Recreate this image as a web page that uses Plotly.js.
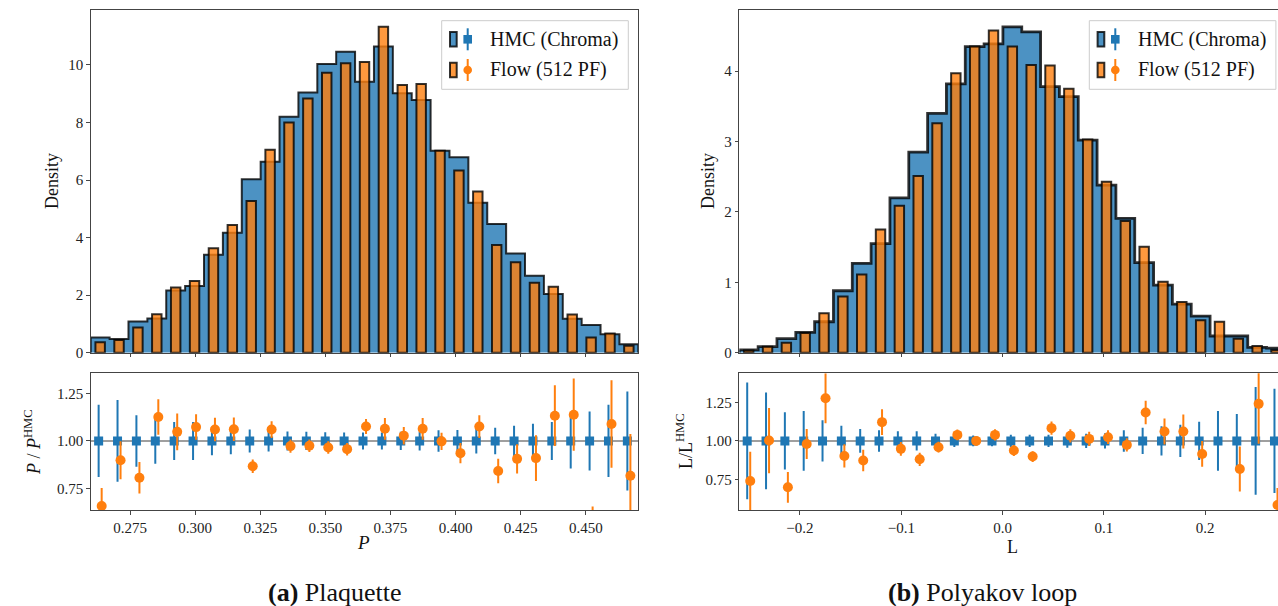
<!DOCTYPE html>
<html><head><meta charset="utf-8">
<script src="https://cdn.plot.ly/plotly-3.0.1.min.js"></script>
<style>html,body{margin:0;padding:0;overflow:hidden;background:#fff;}#plot{width:1290px;height:606px;}</style>
</head><body><div id="plot"></div>
<script>
// ---------- Data ----------
const plaqCenters = [0.26353,0.27078,0.27803,0.28528,0.29253,0.29978,0.30703,0.31428,0.32153,0.32878,0.33603,0.34328,0.35053,0.35778,0.36503,0.37228,0.37953,0.38678,0.39403,0.40128,0.40853,0.41578,0.42303,0.43028,0.43753,0.44478,0.45203,0.45928,0.46653];
const plaqHMC  = [0.53,0.48,1.08,1.19,2.16,2.32,3.40,4.17,6.03,6.64,8.20,9.04,10.03,10.46,9.42,10.64,9.02,8.78,7.02,6.79,5.21,4.47,3.45,2.67,2.04,1.18,0.96,0.64,0.29];
const plaqFlow = [0.36,0.44,0.88,1.34,2.27,2.49,3.63,4.44,5.27,7.05,8.00,8.83,9.73,10.06,10.10,11.33,9.30,9.34,7.02,6.33,5.60,3.74,3.14,2.43,2.29,1.33,0.53,0.67,0.24];
const plaqHMCRatio = [1,1,1,1,1,1,1,1,1,1,1,1,1,1,1,1,1,1,1,1,1,1,1,1,1,1,1,1,1];
const plaqHMCErr = [0.19,0.215,0.135,0.12,0.10,0.10,0.075,0.07,0.06,0.055,0.05,0.048,0.046,0.045,0.045,0.045,0.048,0.05,0.057,0.058,0.066,0.07,0.08,0.09,0.10,0.145,0.155,0.19,0.26];
const plaqFlowRatio = [0.658,0.899,0.807,1.126,1.048,1.073,1.06,1.062,0.867,1.06,0.973,0.975,0.966,0.957,1.076,1.064,1.028,1.064,0.998,0.936,1.076,0.842,0.906,0.91,1.133,1.138,0.55,1.089,0.817];
const plaqFlowErr = [0.095,0.10,0.083,0.093,0.097,0.067,0.062,0.062,0.035,0.044,0.035,0.033,0.033,0.033,0.039,0.057,0.046,0.057,0.045,0.053,0.06,0.064,0.077,0.12,0.16,0.19,0.106,0.23,0.22];
const plaqTicks = [0.275,0.300,0.325,0.350,0.375,0.400,0.425,0.450];

const polyCenters = [-0.25061,-0.23202,-0.21343,-0.19484,-0.17625,-0.15766,-0.13907,-0.12048,-0.10189,-0.08330,-0.06472,-0.04613,-0.02754,-0.00895,0.00964,0.02823,0.04682,0.06541,0.08400,0.10259,0.12118,0.13977,0.15836,0.17695,0.19554,0.21413,0.23272,0.25131,0.26990];
const polyHMC  = [0.04,0.085,0.20,0.29,0.44,0.88,1.27,1.55,2.20,2.85,3.40,3.82,4.35,4.39,4.63,4.56,3.78,3.64,3.02,2.38,1.91,1.28,0.96,0.69,0.52,0.237,0.237,0.076,0.065];
const polyFlow = [0.03,0.085,0.14,0.28,0.56,0.80,1.11,1.75,2.09,2.51,3.26,3.97,4.35,4.58,4.35,4.09,4.08,3.75,3.03,2.43,1.87,1.505,1.01,0.72,0.46,0.44,0.20,0.095,0.04];
const polyHMCRatio = [1,1,1,1,1,1,1,1,1,1,1,1,1,1,1,1,1,1,1,1,1,1,1,1,1,1,1,1,1];
const polyHMCErr = [0.38,0.315,0.187,0.195,0.134,0.098,0.078,0.07,0.062,0.062,0.046,0.04,0.035,0.035,0.04,0.04,0.04,0.045,0.046,0.05,0.07,0.085,0.095,0.105,0.125,0.195,0.175,0.35,0.34];
const polyFlowRatio = [0.739,1.002,0.698,0.98,1.278,0.902,0.872,1.122,0.948,0.88,0.959,1.039,1.0,1.039,0.937,0.898,1.083,1.033,1.013,1.024,0.974,1.185,1.061,1.061,0.915,1.86,0.817,1.241,0.583];
const polyFlowErr = [0.19,0.212,0.1,0.098,0.163,0.076,0.07,0.084,0.045,0.043,0.035,0.035,0.02,0.037,0.036,0.035,0.043,0.043,0.046,0.045,0.043,0.076,0.084,0.11,0.084,0.35,0.147,0.26,0.11];
const polyTicks = [-0.2,-0.1,0.0,0.1,0.2];

const legendLabels = ['HMC (Chroma)', 'Flow (512 PF)'];
const captions = ['<b>(a)</b> Plaquette', '<b>(b)</b> Polyakov loop'];

// ---------- Helpers ----------
const W = 1290, H = 606;
const BLUE = '#1f77b4', ORANGE = '#ff7f0e';
const BLUE_A = 'rgba(31,119,180,0.8)', ORANGE_A = 'rgba(255,127,14,0.8)', EDGE = 'rgba(0,0,0,0.8)';
const FONT = '"Liberation Serif", "Times New Roman", serif';
const px = x => x / W;
const py = y => 1 - y / H;
const binWidth = c => (c[c.length - 1] - c[0]) / (c.length - 1);

function stepTrace(c, h, xa, ya, lw) {
  const w = binWidth(c);
  const xs = [c[0] - w / 2], ys = [0];
  for (let i = 0; i < c.length; i++) { xs.push(c[i] - w / 2); ys.push(h[i]); }
  xs.push(c[c.length - 1] + w / 2); ys.push(h[h.length - 1]);
  xs.push(c[c.length - 1] + w / 2); ys.push(0);
  return {type: 'scatter', mode: 'lines', x: xs, y: ys, xaxis: xa, yaxis: ya,
    line: {shape: 'hv', color: EDGE, width: lw}, fill: 'toself', fillcolor: BLUE_A,
    hoverinfo: 'skip', showlegend: false};
}
function barTrace(c, h, xa, ya) {
  const w = binWidth(c);
  return {type: 'bar', x: c, y: h, width: w * 0.5, xaxis: xa, yaxis: ya,
    marker: {color: ORANGE_A, line: {color: EDGE, width: 2}}, showlegend: false, hoverinfo: 'skip'};
}
function ratioTraces(c, hr, he, fr, fe, xa, ya) {
  const off = binWidth(c) * 0.08;
  return [
    {type: 'scatter', mode: 'markers', x: c.map(v => v - off), y: hr, xaxis: xa, yaxis: ya,
      marker: {symbol: 'square', size: 9, color: BLUE},
      error_y: {type: 'data', array: he, visible: true, color: BLUE, thickness: 2, width: 0},
      showlegend: false, hoverinfo: 'skip'},
    {type: 'scatter', mode: 'markers', x: c.map(v => v + off), y: fr, xaxis: xa, yaxis: ya,
      marker: {symbol: 'circle', size: 10, color: ORANGE},
      error_y: {type: 'data', array: fe, visible: true, color: ORANGE, thickness: 2, width: 0},
      showlegend: false, hoverinfo: 'skip'}
  ];
}

const traces = [
  stepTrace(plaqCenters, plaqHMC, 'x', 'y', 2),
  ...ratioTraces(plaqCenters, plaqHMCRatio, plaqHMCErr, plaqFlowRatio, plaqFlowErr, 'x2', 'y2'),
  stepTrace(polyCenters, polyHMC, 'x3', 'y3', 2.8),
  ...ratioTraces(polyCenters, polyHMCRatio, polyHMCErr, polyFlowRatio, polyFlowErr, 'x4', 'y4'),
  // flow histograms on overlay y-axes so they are drawn above the HMC fill
  barTrace(plaqCenters, plaqFlow, 'x', 'y5'),
  barTrace(polyCenters, polyFlow, 'x3', 'y6')
];

const tickFont = {family: FONT, size: 15, color: '#222'};
function axis(extra) {
  return Object.assign({showline: true, mirror: true, linecolor: '#444', linewidth: 1,
    ticks: 'outside', ticklen: 3.5, tickwidth: 0.9, tickcolor: '#333',
    showgrid: false, zeroline: false, tickfont: tickFont, fixedrange: true}, extra);
}
const topDom = [py(352.7), py(10)], botDom = [py(510), py(373.3)];
const leftDom = [px(90.7), px(638.3)], rightDom = [px(739.3), px(1285.4)];

const layout = {
  width: W, height: H, margin: {l: 0, r: 0, t: 0, b: 0},
  paper_bgcolor: '#fff', plot_bgcolor: '#fff', showlegend: false, barmode: 'overlay',
  font: {family: FONT, color: '#111'},
  xaxis: axis({domain: leftDom, anchor: 'y', range: [0.2599, 0.47015], tickvals: plaqTicks, showticklabels: false}),
  yaxis: axis({domain: topDom, anchor: 'x', range: [0, 11.91], tickvals: [0, 2, 4, 6, 8, 10]}),
  yaxis5: {overlaying: 'y', anchor: 'x', range: [0, 11.91], visible: false, fixedrange: true},
  xaxis2: axis({domain: leftDom, anchor: 'y2', range: [0.2599, 0.47015], tickvals: plaqTicks, tickformat: '.3f'}),
  yaxis2: axis({domain: botDom, anchor: 'x2', range: [0.637, 1.356], tickvals: [0.75, 1.0, 1.25], tickformat: '.2f'}),
  xaxis3: axis({domain: rightDom, anchor: 'y3', range: [-0.2599, 0.2792], tickvals: polyTicks, showticklabels: false}),
  yaxis3: axis({domain: topDom, anchor: 'x3', range: [0, 4.87], tickvals: [0, 1, 2, 3, 4]}),
  yaxis6: {overlaying: 'y3', anchor: 'x3', range: [0, 4.87], visible: false, fixedrange: true},
  xaxis4: axis({domain: rightDom, anchor: 'y4', range: [-0.2599, 0.2792], tickvals: polyTicks, tickformat: '.1f'}),
  yaxis4: axis({domain: botDom, anchor: 'x4', range: [0.55, 1.44], tickvals: [0.75, 1.0, 1.25], tickformat: '.2f'}),
  shapes: [], annotations: []
};

// reference lines at ratio 1
[['x2', 'y2'], ['x4', 'y4']].forEach(([xa, ya]) => {
  layout.shapes.push({type: 'line', xref: xa + ' domain', x0: 0, x1: 1, yref: ya, y0: 1, y1: 1,
    line: {color: '#7f7f7f', width: 1.5}, layer: 'below'});
});

// custom legends (patch + errorbar marker)
function legend(boxLeft) {
  const boxRight = boxLeft + 186.6, top = 20.7, bottom = 89.3;
  layout.shapes.push({type: 'rect', xref: 'paper', yref: 'paper', x0: px(boxLeft), x1: px(boxRight),
    y0: py(bottom), y1: py(top), fillcolor: 'rgba(255,255,255,0.8)', line: {color: '#cccccc', width: 1}});
  const rows = [39.3, 70.0];
  const fills = [BLUE_A, ORANGE_A], cols = [BLUE, ORANGE];
  rows.forEach((ry, i) => {
    layout.shapes.push({type: 'rect', xref: 'paper', yref: 'paper', x0: px(boxLeft + 8.3), x1: px(boxLeft + 15),
      y0: py(ry + 7.3), y1: py(ry - 7.3), fillcolor: fills[i], line: {color: EDGE, width: 2}});
    layout.shapes.push({type: 'line', xref: 'paper', yref: 'paper', x0: px(boxLeft + 26), x1: px(boxLeft + 26),
      y0: py(ry + 11), y1: py(ry - 11), line: {color: cols[i], width: 2}});
    layout.shapes.push({type: i === 0 ? 'rect' : 'circle', xref: 'paper', yref: 'paper',
      x0: px(boxLeft + 26 - 4.3), x1: px(boxLeft + 26 + 4.3), y0: py(ry + 4.3), y1: py(ry - 4.3),
      fillcolor: cols[i], line: {width: 0}});
    layout.annotations.push({xref: 'paper', yref: 'paper', x: px(boxLeft + 46.6), y: py(ry),
      xanchor: 'left', yanchor: 'middle', showarrow: false, text: legendLabels[i],
      font: {family: FONT, size: 20, color: '#111'}});
  });
}
legend(441.7);
legend(1089.3);

// axis titles and captions as annotations
function ann(x, y, text, size, angle) {
  layout.annotations.push({xref: 'paper', yref: 'paper', x: px(x), y: py(y), xanchor: 'center', yanchor: 'middle',
    showarrow: false, text: text, textangle: angle || 0, font: {family: FONT, size: size, color: '#111'}});
}
ann(52, 181, 'Density', 18, -90);
ann(708, 181, 'Density', 18, -90);
ann(33, 442, '<i>P</i> / <i>P</i><sup>HMC</sup>', 18, -90);
ann(684, 441, 'L/L<sup>HMC</sup>', 18, -90);
ann(363, 542, '<i>P</i>', 19, 0);
ann(1012, 547, 'L', 18, 0);
ann(335, 592, captions[0], 26, 0);
ann(983, 592, captions[1], 26, 0);

Plotly.newPlot('plot', traces, layout, {staticPlot: true, displayModeBar: false});
</script>
</body></html>
